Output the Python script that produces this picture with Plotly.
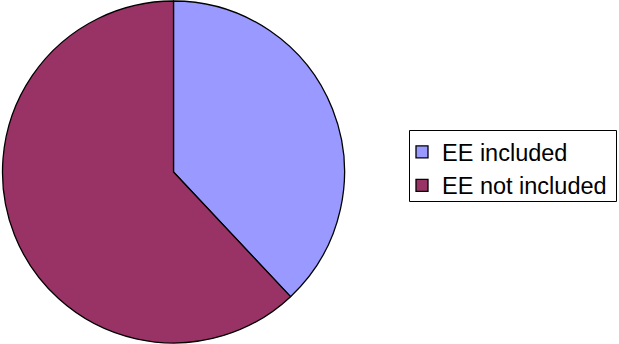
import plotly.graph_objects as go

# Share of studies by whether EE was included
labels = ["EE included", "EE not included"]
values = [38, 62]
colors = ["#9999FF", "#993366"]

W, H = 619, 344

fig = go.Figure(
    go.Pie(
        labels=labels,
        values=values,
        sort=False,
        direction="clockwise",
        rotation=0,
        textinfo="none",
        hoverinfo="label+percent",
        marker=dict(colors=colors, line=dict(color="black", width=1.3)),
        domain=dict(x=[2 / W, 345 / W], y=[1 / H, 343 / H]),
    )
)

# Legend frame drawn separately so the entries can sit freely inside it
fig.add_shape(
    type="rect",
    xref="paper", yref="paper",
    x0=409.5 / W, x1=616.5 / W,
    y0=1 - 201.5 / H, y1=1 - 130.5 / H,
    line=dict(color="black", width=1),
    fillcolor="white",
    layer="below",
)

fig.update_layout(
    width=W,
    height=H,
    margin=dict(l=0, r=0, t=0, b=0),
    paper_bgcolor="white",
    plot_bgcolor="white",
    showlegend=True,
    legend=dict(
        x=402 / W,
        y=1 - 130 / H,
        xanchor="left",
        yanchor="top",
        bgcolor="rgba(0,0,0,0)",
        borderwidth=0,
        font=dict(family="Liberation Sans, Arial, sans-serif", size=23.5, color="black"),
    ),
)

fig.write_html("out.html")
